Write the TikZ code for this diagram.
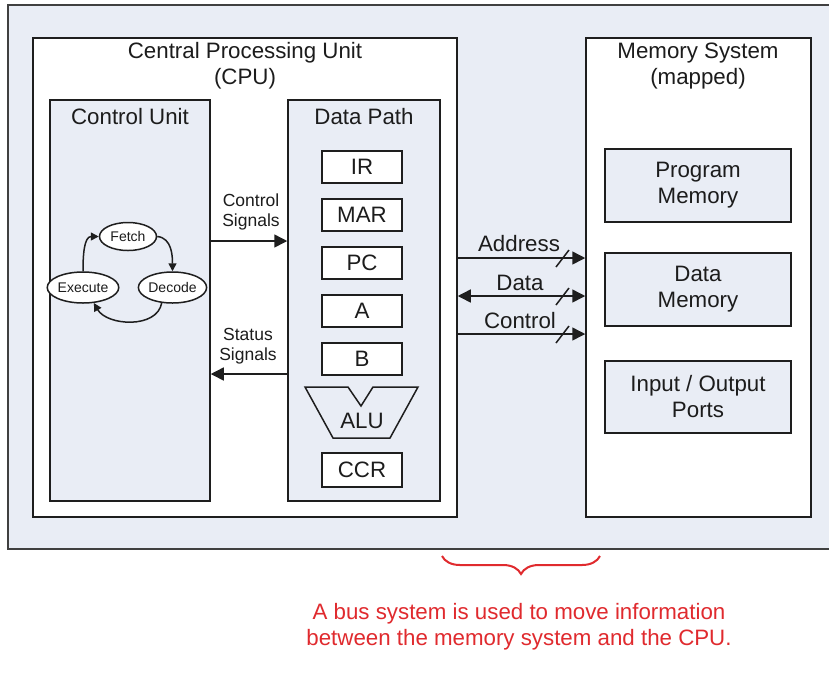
\documentclass[tikz,border=0pt]{standalone}
\usepackage{fontspec}
\setmainfont{Liberation Sans}
\usetikzlibrary{arrows.meta,decorations.pathreplacing,shapes.geometric}
\definecolor{bgc}{HTML}{E9EDF5}
\definecolor{linec}{HTML}{1E1E1E}
\definecolor{txtc}{HTML}{1C1C1C}
\definecolor{redc}{HTML}{E02A2E}
\tikzset{
  big/.style={font=\fontsize{22.3}{26}\selectfont, text=txtc, align=center},
  small/.style={font=\fontsize{17.5}{20}\selectfont, text=txtc, align=center},
  tiny/.style={font=\fontsize{14}{16}\selectfont, text=txtc},
  frame/.style={draw=linec, line width=1.5pt, rectangle, inner sep=0pt},
  reg/.style={frame, fill=white, minimum width=80pt, minimum height=32pt, big},
  membox/.style={frame, fill=bgc, minimum width=186pt, minimum height=73pt, big},
  cyc/.style={ellipse, draw=linec, line width=1.5pt, fill=white, inner sep=0pt, minimum width=57pt, minimum height=31pt, tiny},
  arr/.style={draw=linec, line width=1.5pt, -{Triangle[length=13pt,width=13pt]}},
  barr/.style={draw=linec, line width=1.5pt, {Triangle[length=13pt,width=13pt]}-{Triangle[length=13pt,width=13pt]}},
  carr/.style={draw=linec, line width=1.5pt, -{Triangle[length=8pt,width=8pt]}},
  slash/.style={draw=linec, line width=1.5pt}
}
\begin{document}
\begin{tikzpicture}[x=1pt,y=1pt]
\useasboundingbox (0,0) rectangle (829,-673);
\clip (0,0) rectangle (829,-673);
\fill[white] (0,0) rectangle (829,-673);
% outer background
\draw[draw=linec!85, line width=2pt, fill=bgc] (8,-5) rectangle (845,-549);
% CPU and memory
\node[frame, fill=white, minimum width=424pt, minimum height=479pt] (CPU) at (245,-277.5) {};
\node[frame, fill=white, minimum width=225pt, minimum height=479pt] (MEM) at (698.5,-277.5) {};
\node[big] (cputitle) at (245,-65.5) {Central Processing Unit\\(CPU)};
\node[big] (memtitle) at (698,-66.5) {Memory System\\(mapped)};
% control unit and data path
\node[frame, fill=bgc, minimum width=160pt, minimum height=401pt] (CU) at (130,-300.5) {};
\node[frame, fill=bgc, minimum width=152pt, minimum height=401pt] (DP) at (364,-300.5) {};
\node[big] (cutitle) at (130,-117) {Control Unit};
\node[big] (dptitle) at (364,-117) {Data Path};
% registers
\node[reg] (IR) at (362,-167) {IR};
\node[reg] (MAR) at (362,-215) {MAR};
\node[reg] (PC) at (362,-263) {PC};
\node[reg] (A) at (362,-311) {A};
\node[reg] (B) at (362,-359) {B};
\draw[draw=linec, line width=1.5pt, fill=bgc, line join=miter]
  (305,-387) -- (348,-387) -- (361,-406) -- (373,-387) -- (418,-387) -- (390,-438) -- (333,-438) -- cycle;
\node[big] (ALU) at (362,-421) {ALU};
\node[reg, minimum height=34pt] (CCR) at (362,-470) {CCR};
% memory boxes
\node[membox] (PM) at (698,-185.5) {Program\\Memory};
\node[membox] (DM) at (698,-289.5) {Data\\Memory};
\node[membox, minimum height=72pt] (IO) at (698,-397) {Input / Output\\Ports};
% cycle
\node[cyc, minimum width=57pt, minimum height=28pt] (F) at (128,-236.5) {Fetch};
\node[cyc] (E) at (83,-287.5) {Execute};
\node[cyc] (D) at (172.5,-287.5) {Decode};
\draw[carr] (F.east) to[out=-5,in=90] (D.north);
\draw[carr] (D.235) to[out=-100,in=-60] (E.-55);
\draw[carr] (E.north) to[out=90,in=180] (F.west);
% control/status
\draw[arr] (CU.east |- 0,-241) -- (DP.west |- 0,-241);
\node[small] (cslab) at (251,-212) {Control\\Signals};
\draw[arr] (DP.west |- 0,-374) -- (CU.east |- 0,-374);
\node[small] (sslab) at (248,-346) {Status\\Signals};
% buses
\draw[arr] (CPU.east |- 0,-258) -- (MEM.west |- 0,-258);
\draw[barr] (CPU.east |- 0,-296) -- (MEM.west |- 0,-296);
\draw[arr] (CPU.east |- 0,-334) -- (MEM.west |- 0,-334);
\draw[slash] (556,-267) -- (569,-250);
\draw[slash] (556,-305) -- (569,-288);
\draw[slash] (556,-343) -- (569,-326);
\node[big] (addr) at (519,-244) {Address};
\node[big] (data) at (520,-283) {Data};
\node[big] (ctrl) at (520,-321) {Control};
% brace and note
\coordinate (brL) at (442,-556);
\coordinate (brR) at (600,-556);
\draw[redc, line width=2pt, decorate, decoration={brace, mirror, amplitude=18pt}] (brL) -- (brR);
\node[big, text=redc] (note) at (519,-627) {A bus system is used to move information\\between the memory system and the CPU.};
\end{tikzpicture}
\end{document}
